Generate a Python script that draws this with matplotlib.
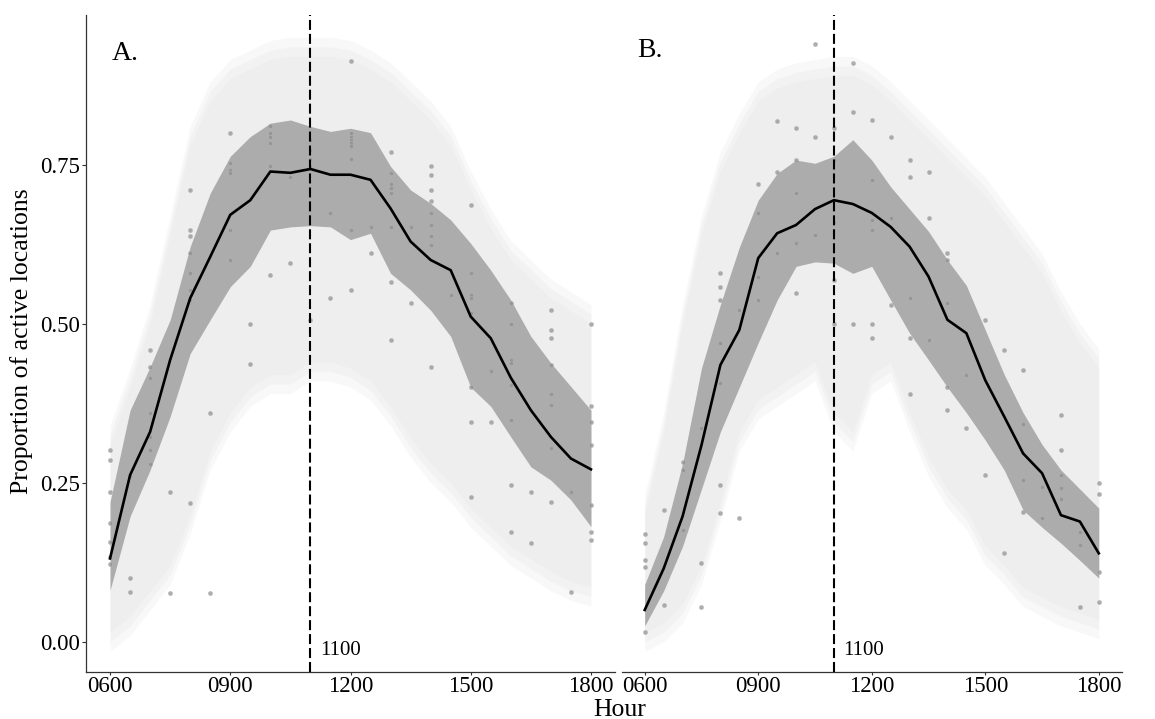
import matplotlib
matplotlib.use('Agg')
import matplotlib.pyplot as plt

# ------------------------------ Data -----------------------------------

hours = [6.0, 6.5, 7.0, 7.5, 8.0, 8.5, 9.0, 9.5, 10.0, 10.5, 11.0, 11.5, 12.0,
         12.5, 13.0, 13.5, 14.0, 14.5, 15.0, 15.5, 16.0, 16.5, 17.0, 17.5, 18.0]
tick_hours = [6, 9, 12, 15, 18]
tick_labels = ['0600', '0900', '1200', '1500', '1800']
peak_hour = 11
peak_label = '1100'

# Panel A
mean_a = [0.131, 0.262, 0.330, 0.443, 0.540, 0.605, 0.671, 0.694, 0.739, 0.737, 0.743, 0.734, 0.734,
          0.726, 0.681, 0.629, 0.600, 0.584, 0.511, 0.477, 0.415, 0.364, 0.322, 0.288, 0.271]
dark_hi_a = [0.22, 0.364, 0.432, 0.506, 0.621, 0.705, 0.763, 0.794, 0.815, 0.820, 0.810, 0.802, 0.807,
             0.800, 0.747, 0.710, 0.689, 0.663, 0.626, 0.584, 0.537, 0.480, 0.438, 0.401, 0.364]
dark_lo_a = [0.081, 0.197, 0.27, 0.354, 0.453, 0.506, 0.558, 0.59, 0.647, 0.652, 0.654, 0.652, 0.632,
             0.642, 0.579, 0.553, 0.521, 0.480, 0.40, 0.37, 0.322, 0.275, 0.254, 0.223, 0.181]
light_hi_a = [0.31, 0.40, 0.50, 0.64, 0.78, 0.85, 0.885, 0.90, 0.915, 0.92, 0.92, 0.92, 0.915,
              0.90, 0.88, 0.85, 0.82, 0.78, 0.71, 0.65, 0.60, 0.57, 0.54, 0.52, 0.50]
light_lo_a = [0.015, 0.04, 0.08, 0.12, 0.20, 0.30, 0.36, 0.40, 0.42, 0.42, 0.44, 0.44, 0.43,
              0.41, 0.37, 0.32, 0.28, 0.25, 0.21, 0.18, 0.15, 0.13, 0.11, 0.095, 0.086]
points_a = {
    6.0: [0.302, 0.285, 0.236, 0.186, 0.157, 0.134, 0.122],
    6.5: [0.10, 0.079, 0.26],
    7.0: [0.459, 0.432, 0.414, 0.359, 0.322, 0.302, 0.280],
    7.5: [0.236, 0.077],
    8.0: [0.71, 0.647, 0.637, 0.611, 0.579, 0.553, 0.537, 0.218],
    8.5: [0.359, 0.077],
    9.0: [0.80, 0.752, 0.742, 0.736, 0.647, 0.60],
    9.5: [0.50, 0.437],
    10.0: [0.81, 0.80, 0.794, 0.784, 0.747, 0.577],
    10.5: [0.731, 0.595],
    11.0: [0.789, 0.773, 0.758, 0.747, 0.506],
    11.5: [0.674, 0.54],
    12.0: [0.912, 0.80, 0.794, 0.789, 0.784, 0.779, 0.758, 0.647, 0.553],
    12.5: [0.652, 0.611],
    13.0: [0.77, 0.736, 0.72, 0.713, 0.705, 0.652, 0.566, 0.474],
    13.5: [0.652, 0.532],
    14.0: [0.747, 0.734, 0.71, 0.692, 0.674, 0.655, 0.637, 0.624, 0.432],
    14.5: [0.545],
    15.0: [0.687, 0.579, 0.545, 0.54, 0.516, 0.40, 0.346, 0.228],
    15.5: [0.425, 0.346],
    16.0: [0.532, 0.50, 0.443, 0.438, 0.404, 0.349, 0.246, 0.173],
    16.5: [0.236, 0.155],
    17.0: [0.521, 0.49, 0.477, 0.435, 0.39, 0.372, 0.304, 0.22],
    17.5: [0.236, 0.079],
    18.0: [0.50, 0.37, 0.346, 0.309, 0.215, 0.173, 0.16],
}

# Panel B
mean_b = [0.05, 0.115, 0.197, 0.309, 0.435, 0.49, 0.603, 0.642, 0.655, 0.68, 0.694, 0.688, 0.674,
          0.652, 0.621, 0.574, 0.506, 0.485, 0.411, 0.354, 0.296, 0.265, 0.199, 0.189, 0.139]
dark_hi_b = [0.09, 0.165, 0.28, 0.43, 0.53, 0.62, 0.694, 0.736, 0.757, 0.752, 0.763, 0.789, 0.757,
             0.715, 0.68, 0.645, 0.60, 0.56, 0.49, 0.42, 0.36, 0.31, 0.27, 0.24, 0.21]
dark_lo_b = [0.025, 0.08, 0.15, 0.24, 0.33, 0.40, 0.47, 0.537, 0.59, 0.597, 0.595, 0.579, 0.59,
             0.537, 0.485, 0.443, 0.40, 0.36, 0.317, 0.27, 0.207, 0.18, 0.155, 0.128, 0.10]
light_hi_b = [0.20, 0.33, 0.50, 0.64, 0.74, 0.80, 0.85, 0.87, 0.88, 0.885, 0.89, 0.89, 0.875,
              0.85, 0.82, 0.79, 0.76, 0.73, 0.70, 0.66, 0.62, 0.58, 0.52, 0.47, 0.43]
light_lo_b = [0.015, 0.03, 0.06, 0.12, 0.22, 0.33, 0.38, 0.40, 0.42, 0.44, 0.36, 0.33, 0.42,
              0.44, 0.36, 0.29, 0.24, 0.207, 0.15, 0.12, 0.085, 0.07, 0.055, 0.045, 0.035]
points_b = {
    6.0: [0.17, 0.155, 0.128, 0.118, 0.016],
    6.5: [0.207, 0.058],
    7.0: [0.283, 0.27, 0.176],
    7.5: [0.336, 0.124, 0.055],
    8.0: [0.579, 0.558, 0.537, 0.469, 0.407, 0.246, 0.202],
    8.5: [0.521, 0.194],
    9.0: [0.72, 0.674, 0.574, 0.537],
    9.5: [0.818, 0.739, 0.611],
    10.0: [0.807, 0.757, 0.705, 0.626, 0.548],
    10.5: [0.94, 0.794, 0.639],
    11.0: [0.807, 0.757, 0.66, 0.569, 0.50],
    11.5: [0.91, 0.833, 0.50],
    12.0: [0.82, 0.726, 0.663, 0.647, 0.50, 0.477],
    12.5: [0.794, 0.666, 0.53],
    13.0: [0.757, 0.731, 0.54, 0.477, 0.39],
    13.5: [0.739, 0.666, 0.474],
    14.0: [0.611, 0.60, 0.532, 0.40, 0.364],
    14.5: [0.419, 0.336],
    15.0: [0.506, 0.262],
    15.5: [0.459, 0.139],
    16.0: [0.427, 0.343, 0.296, 0.254, 0.204],
    16.5: [0.244, 0.194],
    17.0: [0.356, 0.301, 0.262, 0.241, 0.225],
    17.5: [0.173, 0.152, 0.055],
    18.0: [0.249, 0.233, 0.11, 0.063],
}

# ------------------------------ Plotting -----------------------------------

plt.rcParams['font.family'] = ['Liberation Serif', 'DejaVu Serif']

fig = plt.figure(figsize=(11.55, 7.19), dpi=100)
ax_a = fig.add_axes([86 / 1155, 47.3 / 719, 529 / 1155, 656.7 / 719])
ax_b = fig.add_axes([622 / 1155, 47.3 / 719, 499.5 / 1155, 656.7 / 719])


def draw_panel(ax, mean, dark_hi, dark_lo, light_hi, light_lo, points, show_y):
    # soft light band (stacked layers for a blurry edge)
    for pad in [0.03, 0.015, 0.0]:
        lo = [v - pad for v in light_lo]
        hi = [v + pad for v in light_hi]
        ax.fill_between(hours, lo, hi, color='#dcdcdc', alpha=0.18, lw=0)
    ax.fill_between(hours, dark_lo, dark_hi, color='#acacac', lw=0)

    xs, ys = [], []
    for h, vals in points.items():
        xs += [h] * len(vals)
        ys += vals
    ax.scatter(xs, ys, s=9, facecolor='#8c8c8c', edgecolor='#b5b5b5', linewidth=0.5,
               alpha=0.7, zorder=3)

    ax.plot(hours, mean, color='black', lw=1.9, zorder=4)
    ax.axvline(peak_hour, color='black', lw=1.5, ls=(0, (4.8, 1.9)), zorder=5)
    ax.text(peak_hour + 0.25, -0.021, peak_label, fontsize=15, va='baseline', ha='left')

    ax.set_xlim(5.4, 18.6)
    ax.set_ylim(-0.047, 0.985)
    ax.set_xticks(tick_hours)
    ax.set_xticklabels(tick_labels)
    ax.tick_params(axis='x', length=2, width=0.8, pad=1, labelsize=16.5, color='#333333')

    for side in ['top', 'right']:
        ax.spines[side].set_visible(False)
    ax.spines['bottom'].set_linewidth(0.9)
    ax.spines['bottom'].set_color('#333333')
    if show_y:
        ax.set_yticks([0.0, 0.25, 0.5, 0.75])
        ax.set_yticklabels(['0.00', '0.25', '0.50', '0.75'])
        ax.tick_params(axis='y', length=3, width=0.8, pad=1.5, labelsize=16.5, color='#333333')
        ax.spines['left'].set_linewidth(0.9)
        ax.spines['left'].set_color('#333333')
    else:
        ax.set_yticks([])
        ax.spines['left'].set_visible(False)
    ax.set_facecolor('none')


draw_panel(ax_a, mean_a, dark_hi_a, dark_lo_a, light_hi_a, light_lo_a, points_a, True)
draw_panel(ax_b, mean_b, dark_hi_b, dark_lo_b, light_hi_b, light_lo_b, points_b, False)

ax_a.text(6.05, 0.915, 'A.', fontsize=20, va='baseline')
ax_b.text(5.81, 0.919, 'B.', fontsize=20, va='baseline')

fig.text(22 / 1155, 378 / 719, 'Proportion of active locations', rotation=90,
         fontsize=18.5, ha='center', va='center')
fig.text(620 / 1155, 3 / 719, 'Hour', fontsize=18.5, ha='center', va='baseline')

fig.savefig('out.png', dpi=100)
